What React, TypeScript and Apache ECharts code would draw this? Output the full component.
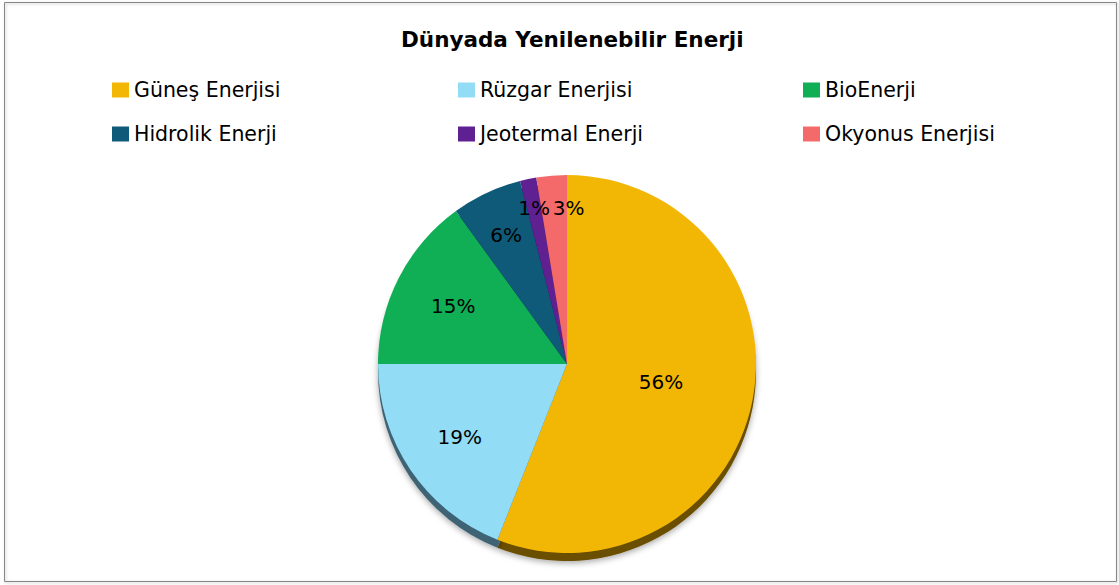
import React, { useEffect, useRef } from "react";
import * as echarts from "echarts";

const categories = ["Güneş Enerjisi", "Rüzgar Enerjisi", "BioEnerji", "Hidrolik Enerji", "Jeotermal Enerji", "Okyonus Enerjisi"];
const values = [56, 19, 15, 6, 1.4, 2.6];
const labels = ["56%", "19%", "15%", "6%", "1%", "3%"];

// styling
const colors = ["#F2B705", "#93DCF5", "#10AF55", "#0E5A78", "#5F2191", "#F46A6A"];
const darkColors = ["#6B4F00", "#3E6475", "#0A5A2C", "#083040", "#2E1048", "#7A3030"];
const labelRadiusFraction = [0.49, 0.67, 0.66, 0.74, 0.83, 0.79];
const labelNudge: Record<number, number[]> = { 5: [14, -4] };
const legendColumns = [[0, 3], [1, 4], [2, 5]];
const legendLefts = [107, 453, 798];

const FONT = "'DejaVu Sans', sans-serif";

export default function App() {
  const ref = useRef<HTMLDivElement>(null);
  useEffect(() => {
    document.body.style.margin = "0";
    const chart = echarts.init(ref.current!, null, { renderer: "svg" });
    const center = [567, 364];
    const radius = 189;

    const groups = Array.from(new Set(labelRadiusFraction));
    const labelSeries = groups.map((f) => ({
      type: "pie",
      name: "lbl" + f,
      center: center,
      radius: radius * 2 * f,
      startAngle: 90,
      clockwise: true,
      silent: true,
      legendHoverLink: false,
      avoidLabelOverlap: false,
      labelLayout: { hideOverlap: false },
      z: 5,
      itemStyle: { color: "rgba(0,0,0,0)", borderWidth: 0 },
      emphasis: { disabled: true },
      labelLine: { show: false },
      label: {
        position: "inside",
        fontFamily: FONT,
        fontSize: 20,
        color: "#000",
        formatter: (p: any) => labels[p.dataIndex],
      },
      data: values.map((v, i) => ({
        name: "l" + i,
        value: v,
        label: labelNudge[i]
          ? { show: labelRadiusFraction[i] === f, offset: labelNudge[i] }
          : { show: labelRadiusFraction[i] === f },
      })),
    }));

    chart.setOption({
      animation: false,
      backgroundColor: "#ffffff",
      title: {
        text: "Dünyada Yenilenebilir Enerji",
        left: 396,
        top: 23,
        textStyle: { fontFamily: FONT, fontSize: 21.5, fontWeight: "bold", color: "#000" },
      },
      legend: legendColumns.map((col, i) => ({
        orient: "vertical",
        left: legendLefts[i],
        top: 73,
        itemWidth: 17,
        itemHeight: 15,
        itemGap: 20,
        icon: "rect",
        selectedMode: false,
        data: col.map((k) => categories[k]),
        textStyle: { fontFamily: FONT, fontSize: 20.5, lineHeight: 24, color: "#000" },
      })),
      graphic: [
        {
          type: "rect",
          shape: { x: 4.5, y: 2.5, width: 1112, height: 579 },
          style: { fill: "none", stroke: "#878787", lineWidth: 1, shadowColor: "rgba(0,0,0,0.25)", shadowBlur: 3, shadowOffsetX: 1, shadowOffsetY: 1 },
          silent: true,
          z: -10,
        },
      ],
      series: [
        {
          type: "pie",
          name: "shadow",
          center: [center[0], center[1] + 8],
          radius: radius,
          startAngle: 90,
          clockwise: true,
          silent: true,
          legendHoverLink: false,
          label: { show: false },
          labelLine: { show: false },
          z: 1,
          itemStyle: { shadowColor: "rgba(0,0,0,0.35)", shadowBlur: 6, shadowOffsetY: 2 },
          data: values.map((v, i) => ({ name: "s" + i, value: v, itemStyle: { color: darkColors[i] } })),
        },
        {
          type: "pie",
          name: "Enerji",
          center: center,
          radius: radius,
          startAngle: 90,
          clockwise: true,
          z: 2,
          label: { show: false },
          labelLine: { show: false },
          data: values.map((v, i) => ({ name: categories[i], value: v, itemStyle: { color: colors[i] } })),
        },
        ...labelSeries,
      ],
    });
    return () => chart.dispose();
  }, []);
  return <div ref={ref} style={{ width: 1119, height: 585 }} />;
}
